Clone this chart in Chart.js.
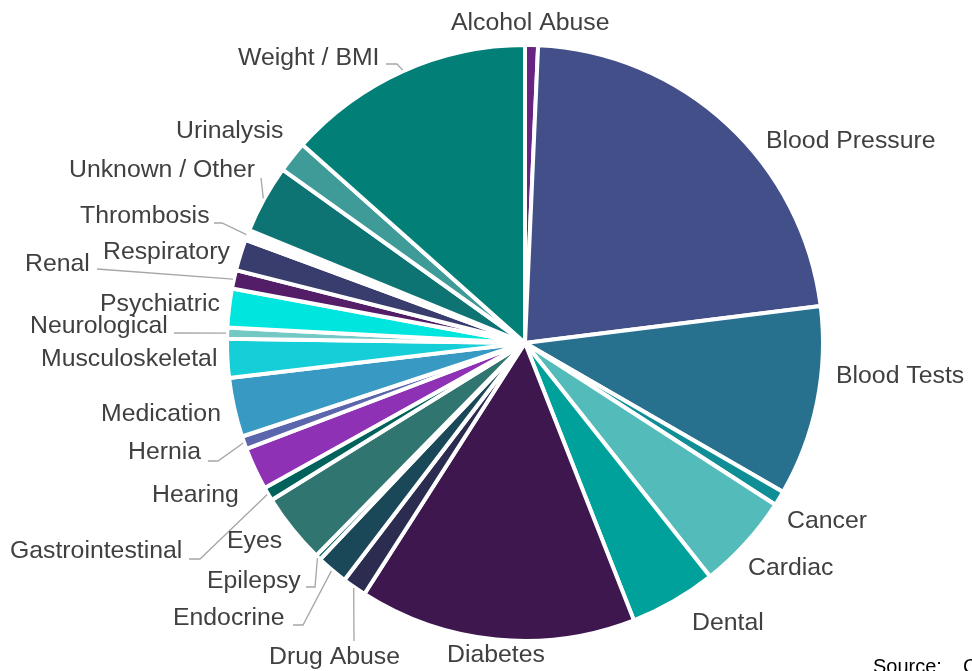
<!DOCTYPE html>
<html>
<head>
<meta charset="utf-8">
<script src="https://cdn.jsdelivr.net/npm/chart.js@4.4.1/dist/chart.umd.min.js"></script>
<style>
  html, body { margin: 0; padding: 0; background: #ffffff; }
  #wrap { width: 972px; height: 671px; position: relative; overflow: hidden; }
</style>
</head>
<body>
<div id="wrap"><canvas id="chart" width="972" height="671"></canvas></div>
<script>
// Catégories du camembert, dans l'ordre des aiguilles d'une montre depuis midi
const categories = [
    'Alcohol Abuse', 'Blood Pressure', 'Blood Tests', 'Cancer', 'Cardiac', 'Dental',
    'Diabetes', 'Drug Abuse', 'Endocrine', 'Epilepsy', 'Eyes', 'Gastrointestinal',
    'Hearing', 'Hernia', 'Medication', 'Musculoskeletal', 'Neurological', 'Psychiatric',
    'Renal', 'Respiratory', 'Thrombosis', 'Unknown / Other', 'Urinalysis', 'Weight / BMI'
];

// Part de chaque catégorie (%)
const shares = [
    0.7, 22.3, 10.3, 0.8, 5.2, 4.7,
    15.0, 1.3, 1.7, 0.3, 3.8, 0.75,
    2.3, 0.7, 3.2, 2.1, 0.6, 2.1,
    1.0, 1.7, 0.55, 3.7, 1.7, 13.4
];

// Couleur de chaque part
const sliceColors = [
    '#672482', '#434f89', '#27718f', '#0f8f95', '#53bbb9', '#00a19b',
    '#3e174f', '#2b2c50', '#1b4858', '#126b6b', '#30756f', '#00625a',
    '#8e31b5', '#5b66ad', '#3899c3', '#15ced7', '#75c9c5', '#00e5dd',
    '#541d68', '#383d6e', '#ffffff', '#0e7373', '#3e9b98', '#027f77'
];

// Position (bord gauche, milieu vertical) de chaque étiquette
const labelPos = {
    'Alcohol Abuse': [451, 23],
    'Blood Pressure': [766, 141],
    'Blood Tests': [836, 376],
    'Cancer': [787, 521],
    'Cardiac': [748, 568],
    'Dental': [692, 623],
    'Diabetes': [447, 655],
    'Drug Abuse': [269, 657],
    'Endocrine': [173, 618],
    'Epilepsy': [207, 581],
    'Eyes': [227, 541],
    'Gastrointestinal': [10, 551],
    'Hearing': [152, 495],
    'Hernia': [128, 452],
    'Medication': [101, 414],
    'Musculoskeletal': [41, 359],
    'Neurological': [30, 326],
    'Psychiatric': [100, 304],
    'Renal': [25, 264],
    'Respiratory': [103, 252],
    'Thrombosis': [80, 216],
    'Unknown / Other': [69, 170],
    'Urinalysis': [176, 131],
    'Weight / BMI': [238, 58]
};

// Lignes de rappel : point de départ près du texte, puis coude éventuel
const leaders = {
    'Weight / BMI': [[386, 64], [397, 64]],
    'Drug Abuse': [[354, 641]],
    'Endocrine': [[293, 625], [303, 625]],
    'Epilepsy': [[306, 587], [315, 587]],
    'Gastrointestinal': [[189, 559], [200, 559]],
    'Hernia': [[208, 461], [218, 461]],
    'Neurological': [[174, 333]],
    'Renal': [[97, 269]],
    'Thrombosis': [[214, 223], [222, 223]],
    'Unknown / Other': [[261, 178]]
};

// Plugin maison qui dessine les étiquettes, les lignes de rappel et la source
const outsideLabels = {
    id: 'outsideLabels',
    afterDraw(chart) {
        const ctx = chart.ctx;
        const arcs = chart.getDatasetMeta(0).data;
        ctx.save();

        // lignes de rappel vers le bord de la part
        ctx.strokeStyle = '#a6a6a6';
        ctx.lineWidth = 1.3;
        arcs.forEach(function (arc, i) {
            const pts = leaders[categories[i]];
            if (!pts) return;
            const p = arc.getProps(['x', 'y', 'startAngle', 'endAngle', 'outerRadius'], true);
            const mid = (p.startAngle + p.endAngle) / 2;
            const r = p.outerRadius + 1;
            ctx.beginPath();
            ctx.moveTo(pts[0][0], pts[0][1]);
            for (let k = 1; k < pts.length; k++) ctx.lineTo(pts[k][0], pts[k][1]);
            ctx.lineTo(p.x + Math.cos(mid) * r, p.y + Math.sin(mid) * r);
            ctx.stroke();
        });

        // texte des étiquettes
        ctx.fillStyle = '#404040';
        ctx.font = '24.8px "Liberation Sans", Arial, sans-serif';
        ctx.textAlign = 'left';
        ctx.textBaseline = 'middle';
        categories.forEach(function (name) {
            const pos = labelPos[name];
            ctx.fillText(name, pos[0], pos[1]);
        });

        // source, coupée en bas à droite
        ctx.fillStyle = '#000000';
        ctx.font = '20px "Liberation Sans", Arial, sans-serif';
        ctx.textBaseline = 'alphabetic';
        ctx.fillText('Source:', 873, 673);
        ctx.fillText('C', 963, 673);
        ctx.restore();
    }
};

const chartConfig = {
    type: 'pie',
    data: {
        labels: categories,
        datasets: [{
            data: shares,
            backgroundColor: sliceColors,
            borderColor: '#ffffff',
            borderWidth: 4,
            hoverOffset: 0
        }]
    },
    options: {
        responsive: false,
        animation: false,
        layout: {
            padding: { left: 225, right: 147, top: 43, bottom: 28 }
        },
        plugins: {
            legend: { display: false },
            tooltip: { enabled: false }
        }
    },
    plugins: [outsideLabels]
};

new Chart(document.getElementById('chart').getContext('2d'), chartConfig);
</script>
</body>
</html>
